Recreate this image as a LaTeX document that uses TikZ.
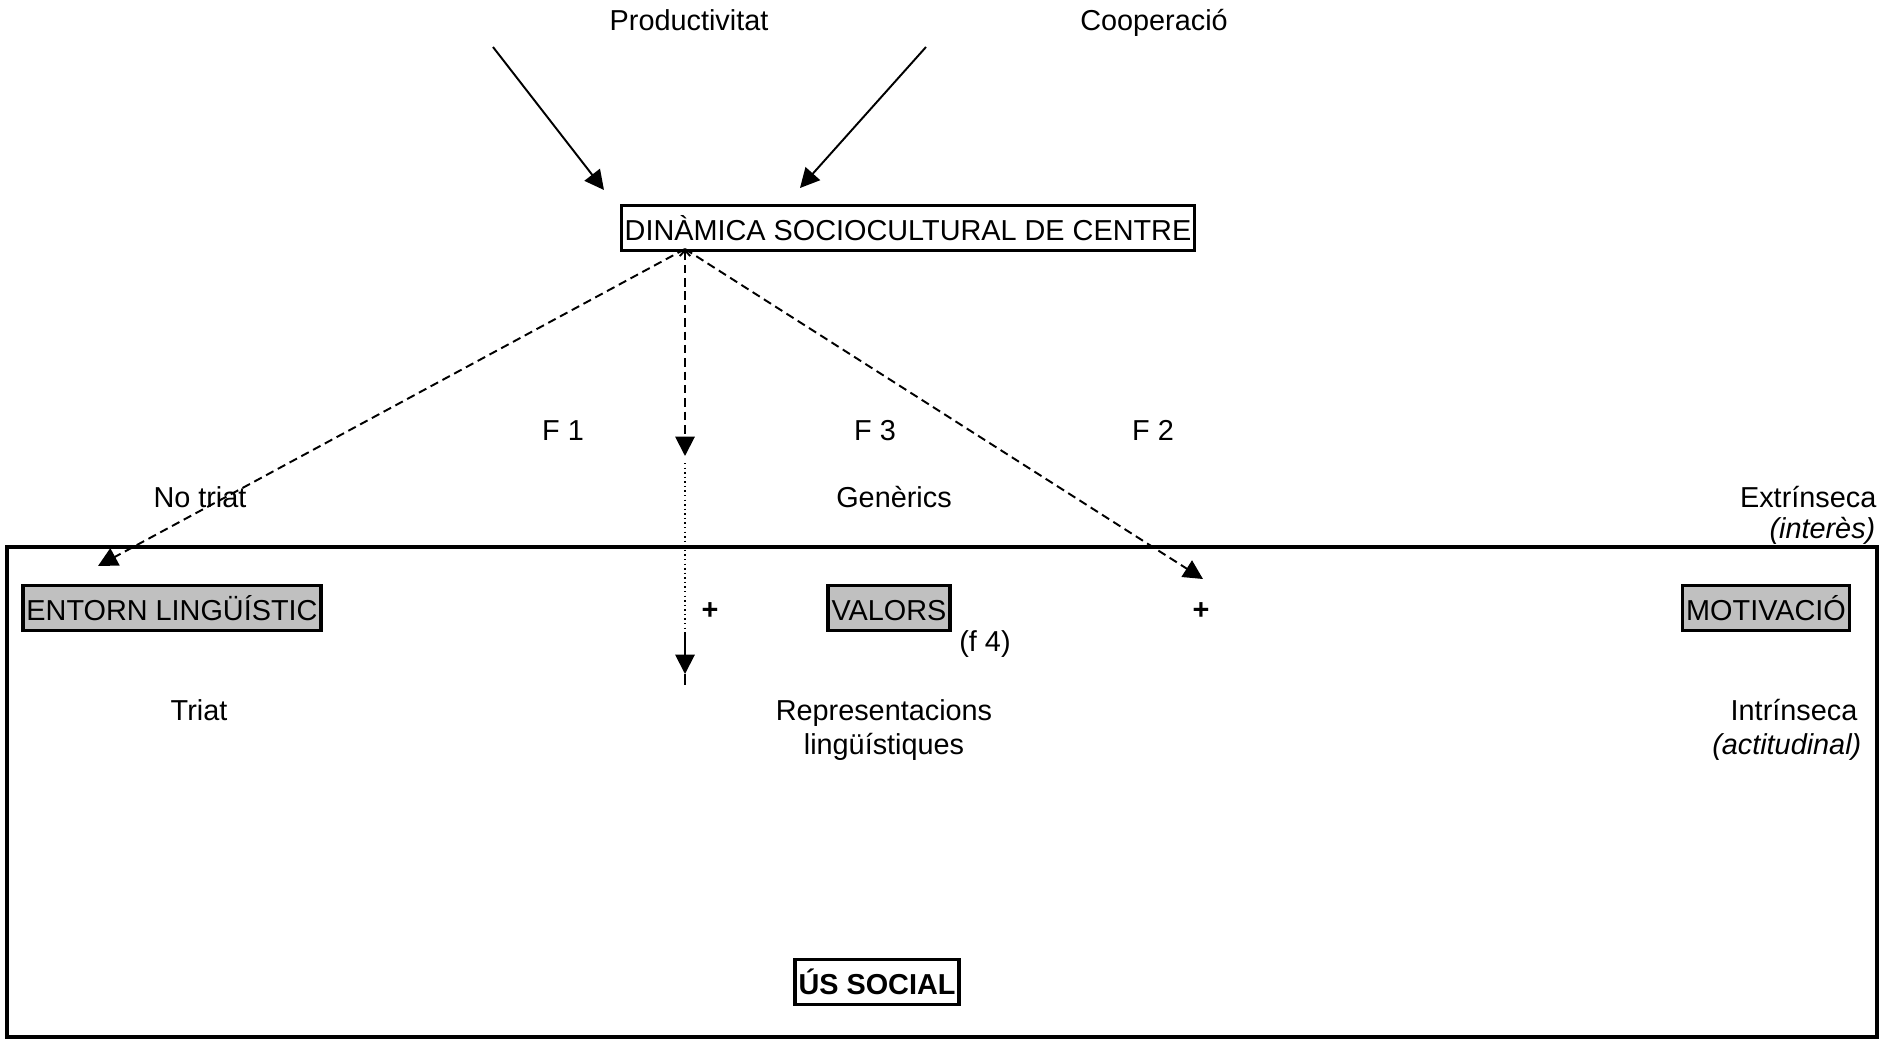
\documentclass[tikz,border=0pt]{standalone}
\usepackage{fontspec}
\setmainfont{Liberation Sans}
\usetikzlibrary{arrows.meta}
\definecolor{boxgray}{HTML}{C0C0C0}
\begin{document}
\begin{tikzpicture}[x=0.01cm,y=-0.01cm,
  every node/.style={font=\fontsize{8.2}{9.8}\selectfont, inner sep=0pt},
  lbl/.style={anchor=base},
  lble/.style={anchor=base east},
  framed/.style={draw, line width=0.9pt, inner xsep=1pt, inner ysep=1pt, text height=0.9em, text depth=0.19em},
  grayframed/.style={framed, fill=boxgray},
  arr/.style={line width=0.55pt, -{Triangle[length=5.5pt,width=5.5pt]}},
  dashline/.style={line width=0.55pt, dash pattern=on 2.4pt off 1.4pt},
  dotline/.style={line width=0.45pt, dash pattern=on 0.4pt off 0.9pt}
]
\useasboundingbox (0,0) rectangle (1881,1039);

% outer frame
\draw[line width=1pt] (7,547) rectangle (1877,1037);

% top labels
\node[lbl] (prod) at (689,30) {Productivitat};
\node[lbl] (coop) at (1154,30) {Cooperació};

% central box
\node[framed] (dyn) at (908,228) {DINÀMICA SOCIOCULTURAL DE CENTRE};

% top arrows
\coordinate (pa) at (493,47);
\coordinate (pb) at (604,190);
\coordinate (ca) at (926,47);
\coordinate (cb) at (800,188);
\draw[arr] (pa) -- (pb);
\draw[arr] (ca) -- (cb);

% labels
\node[lbl] (f1) at (563,440) {F 1};
\node[lbl] (f3) at (875,440) {F 3};
\node[lbl] (f2) at (1153,440) {F 2};
\node[lbl] (notriat) at (200,507) {No triat};
\node[lbl] (generics) at (894,507) {Genèrics};
\node[lble] (extr) at (1877,507) {Extrínseca};
\node[lble] (inter) at (1876,538) {\itshape (interès)};

% gray boxes
\node[grayframed] (entorn) at (172,608) {ENTORN LINGÜÍSTIC};
\node[grayframed] (valors) at (889,608) {VALORS};
\node[grayframed] (motiv) at (1766,608) {MOTIVACIÓ};

\node (plus1) at (710,611) {\textbf{+}};
\node (plus2) at (1201,611) {\textbf{+}};
\node[lbl] (f4) at (985,651) {(f 4)};

\node[lbl] (triat) at (199,720) {Triat};
\node[lbl] (repr) at (884,720) {Representacions};
\node[lbl] (ling) at (884,754) {lingüístiques};
\node[lble] (intr) at (1858,720) {Intrínseca};
\node[lble] (actit) at (1862,754) {\itshape (actitudinal)};

\node[framed, font=\fontsize{8.2}{9.8}\selectfont\bfseries] (us) at (877,982) {ÚS SOCIAL};

% dashed connectors from the central box
\coordinate (o) at (685,249);
\coordinate (le) at (98,566);
\coordinate (re) at (1203,579);
\coordinate (v1) at (685,456);
\coordinate (v2) at (685,463);
\coordinate (v3) at (685,634);
\coordinate (v4) at (685,674);
\coordinate (v5) at (685,685);
\draw[dashline, -{Triangle[length=5.5pt,width=5.5pt]}] (o) -- (le);
\draw[dashline, -{Triangle[length=5.5pt,width=5.5pt]}] (o) -- (re);
\draw[dashline, {Straight Barb[length=1.6pt,width=3pt]}-{Triangle[length=5.5pt,width=5.5pt]}] (o) -- (v1);
\draw[dotline] (v2) -- (v3);
\draw[arr] (v3) -- (v4);
\draw[line width=0.55pt] (v4) -- (v5);
\end{tikzpicture}
\end{document}
